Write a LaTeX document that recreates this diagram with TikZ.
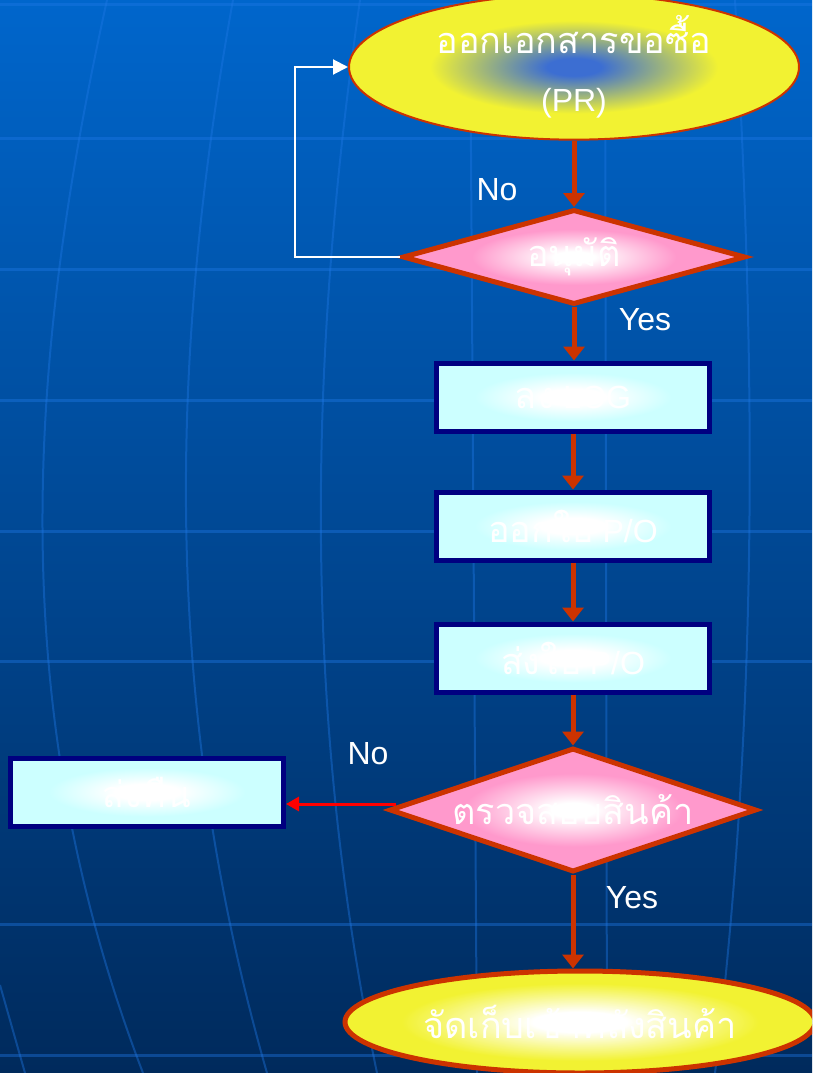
\documentclass[tikz,border=0pt]{standalone}
\usepackage{fontspec}
\setmainfont{Liberation Sans}
\newfontfamily\thaifont[Script=Thai]{Loma}
\usetikzlibrary{shapes.geometric,arrows.meta}

\definecolor{bgtop}{RGB}{0,102,204}
\definecolor{bgbot}{RGB}{0,42,92}
\definecolor{gridln}{RGB}{30,120,230}
\definecolor{flowred}{RGB}{204,51,0}
\definecolor{boxnavy}{RGB}{0,0,128}
\definecolor{prblue}{RGB}{60,110,210}
\definecolor{ellyel}{RGB}{242,242,50}
\definecolor{decpink}{RGB}{255,153,204}
\definecolor{boxcyan}{RGB}{204,255,255}

\pgfdeclareradialshading{prshade}{\pgfpoint{0bp}{0bp}}{color(0bp)=(prblue); color(3bp)=(prblue); color(16bp)=(ellyel); color(50bp)=(ellyel)}
\pgfdeclareradialshading{storeshade}{\pgfpoint{0bp}{0bp}}{color(0bp)=(white); color(5bp)=(white); color(19bp)=(ellyel); color(50bp)=(ellyel)}
\pgfdeclareradialshading{decshade}{\pgfpoint{0bp}{0bp}}{color(0bp)=(white); color(3bp)=(white); color(15bp)=(decpink); color(50bp)=(decpink)}
\pgfdeclareradialshading{boxshade}{\pgfpoint{0bp}{0bp}}{color(0bp)=(white); color(6bp)=(white); color(18bp)=(boxcyan); color(50bp)=(boxcyan)}

\newcommand\thtxt[1]{{\thaifont\fontsize{36}{40}\selectfont #1}}

\begin{document}
\begin{tikzpicture}[x=1pt,y=-1pt,
  txt/.style={text=white,font=\fontsize{32}{38}\selectfont},
  gridline/.style={draw=gridln,opacity=0.4},
  term/.style={ellipse,shade,inner sep=0pt,txt,align=center},
  decide/.style={diamond,shade,shading=decshade,draw=flowred,line width=5pt,inner sep=0pt,txt},
  procbox/.style={rectangle,shade,shading=boxshade,draw=boxnavy,line width=5pt,minimum width=273pt,minimum height=68pt,txt},
  flow/.style={draw=flowred,line width=5pt,-{Triangle[width=21pt,length=14pt]}},
  back/.style={draw=white,line width=2pt,-{Triangle[width=15pt,length=15pt]}},
  reject/.style={draw=red,line width=3pt,-{Triangle[width=14pt,length=13pt]}}]

\useasboundingbox (0,0) rectangle (812,1073);
\clip (0,0) rectangle (812,1073);

% background
\shade[top color=bgtop,bottom color=bgbot] (0,0) rectangle (812,1073);
\foreach \y in {5,138,269,400,531,661,924,1055}
  \draw[gridline,line width=3pt] (0,\y) -- (812,\y);
\draw[gridline,line width=2pt] (107,0) .. controls (30,350) and (0,700) .. (143,1073);
\draw[gridline,line width=2pt] (233,0) .. controls (170,350) and (160,700) .. (267,1073);
\draw[gridline,line width=2pt] (360,0) .. controls (310,350) and (300,700) .. (377,1073);
\draw[gridline,line width=2pt] (470,0) -- (477,1073);
\draw[gridline,line width=2pt] (605,0) -- (607,1073);
\draw[gridline,line width=2pt] (735,0) .. controls (755,350) and (760,700) .. (715,1073);
\draw[gridline,line width=2pt] (0,985) -- (25,1073);

% flow chart
\node[term,shading=prshade,draw=flowred,line width=2pt,minimum width=450pt,minimum height=125pt] (pr) at (574,67)
  {\thtxt{ออกเอกสารขอซื้อ}\\[20pt](PR)};
\node[decide,shape aspect=3.6,minimum width=343pt,minimum height=95pt] (ok) at (574,257) {\thtxt{อนุมัติ}};
\node[procbox] (log) at (573,397) {\thtxt{ลง} LOG};
\node[procbox] (po) at (573,526) {\thtxt{ออกใบ} P/O};
\node[procbox] (send) at (573,658) {\thtxt{ส่งใบ} P/O};
\node[decide,shape aspect=2.96,minimum width=367pt,minimum height=124pt] (chk) at (573,810) {\thtxt{ตรวจสอบสินค้า}};
\node[procbox] (ret) at (147,792) {\thtxt{ส่งคืน}};
\node[term,shading=storeshade,draw=flowred,line width=5pt,minimum width=470pt,minimum height=102pt] (store) at (580,1022)
  {\thtxt{จัดเก็บเข้าคลังสินค้า}};

\node[txt] (no1) at (497,190) {No};
\node[txt] (yes1) at (645,320) {Yes};
\node[txt] (no2) at (368,754) {No};
\node[txt] (yes2) at (632,898) {Yes};

\draw[flow] (pr.south) -- (ok.north);
\draw[flow] (ok.south) -- (ok.south |- log.north);
\draw[flow] (log.south) -- (po.north);
\draw[flow] (po.south) -- (send.north);
\draw[flow] (send.south) -- (chk.north);
\draw[flow] (chk.south) -- (chk.south |- store.north);
\draw[back] (ok.west) -- ++(-105,0) |- (pr.west);%loop back
\draw[reject] ([shift={(9pt,6pt)}]chk.west) -- ([yshift=6pt]chk.west -| ret.east);

\end{tikzpicture}
\end{document}
